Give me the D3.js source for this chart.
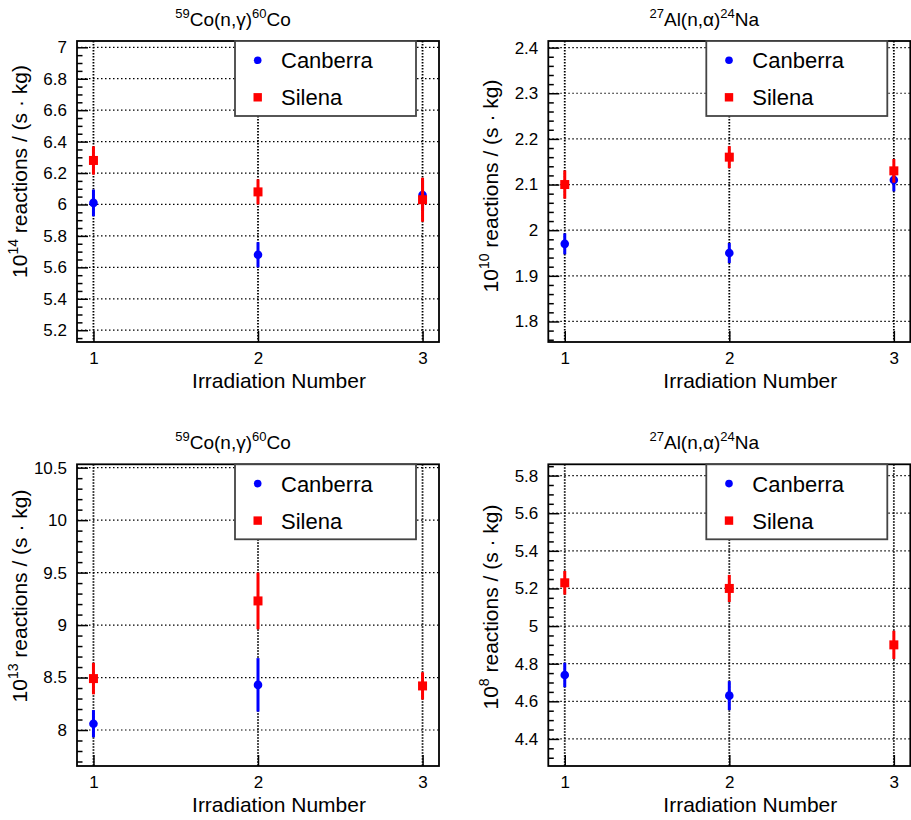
<!DOCTYPE html>
<html>
<head>
<meta charset="utf-8">
<script src="https://cdn.jsdelivr.net/npm/d3@7"></script>
<style>
    body { margin: 0; background: #fff; }
    svg { display: block; font-family: "Liberation Sans", Arial, Helvetica, sans-serif; }
</style>
</head>
<body>
<svg id="chart" width="911" height="820"></svg>
<script>
// irradiation runs (x axis)
var runs = [1, 2, 3];
var seriesNames = ["Canberra", "Silena"];

// 59Co(n,g)60Co, 10^14 reactions / (s kg)
var co14Canberra = [6.01, 5.68, 6.06];
var co14CanberraErr = [0.085, 0.08, 0.10];
var co14Silena = [6.28, 6.08, 6.03];
var co14SilenaErr = [0.09, 0.08, 0.14];

// 27Al(n,a)24Na, 10^10 reactions / (s kg)
var na10Canberra = [1.97, 1.95, 2.11];
var na10CanberraErr = [0.023, 0.022, 0.025];
var na10Silena = [2.10, 2.16, 2.13];
var na10SilenaErr = [0.031, 0.024, 0.026];

// 59Co(n,g)60Co, 10^13 reactions / (s kg)  (no Canberra value for run 3)
var co13Canberra = [8.06, 8.43, null];
var co13CanberraErr = [0.13, 0.255, null];
var co13Silena = [8.49, 9.23, 8.42];
var co13SilenaErr = [0.15, 0.27, 0.13];

// 27Al(n,a)24Na, 10^8 reactions / (s kg)  (no Canberra value for run 3)
var na8Canberra = [4.74, 4.63, null];
var na8CanberraErr = [0.065, 0.077, null];
var na8Silena = [5.23, 5.20, 4.90];
var na8SilenaErr = [0.063, 0.072, 0.075];

var colors = { Canberra: "#0000ff", Silena: "#ff0000" };

/*=====================================================================================================
                                         Panel setup
======================================================================================================*/
var panels = [
    { frame: [77, 439, 41, 342], yDomain: [5.125, 7.04], major: 0.2, minor: 0.05,
      iso: ["59", "Co(n,\u03b3)", "60", "Co"], exp: "14", yTitleY: 171.5,
      can: co14Canberra, canErr: co14CanberraErr, sil: co14Silena, silErr: co14SilenaErr },
    { frame: [548.3, 910.3, 41, 342], yDomain: [1.755, 2.4145], major: 0.1, minor: 0.02,
      iso: ["27", "Al(n,\u03b1)", "24", "Na"], exp: "10", yTitleY: 186,
      can: na10Canberra, canErr: na10CanberraErr, sil: na10Silena, silErr: na10SilenaErr },
    { frame: [77, 439, 464.3, 766], yDomain: [7.657, 10.532], major: 0.5, minor: 0.1,
      iso: ["59", "Co(n,\u03b3)", "60", "Co"], exp: "13", yTitleY: 596,
      can: co13Canberra, canErr: co13CanberraErr, sil: co13Silena, silErr: co13SilenaErr },
    { frame: [548.3, 910.3, 464.3, 766], yDomain: [4.256, 5.86], major: 0.2, minor: 0.05,
      iso: ["27", "Al(n,\u03b1)", "24", "Na"], exp: "8", yTitleY: 607,
      can: na8Canberra, canErr: na8CanberraErr, sil: na8Silena, silErr: na8SilenaErr }
];

var svg = d3.select("#chart");

panels.forEach(drawPanel);

//helpers
function stepTicks(domain, step) {
    var lo = Math.ceil(domain[0] / step - 1e-9),
        hi = Math.floor(domain[1] / step + 1e-9);
    return d3.range(lo, hi + 1).map(function (i) { return +(i * step).toFixed(4); });
}

function fmt(d) { return String(+d.toFixed(3)); }

function drawPanel(p) {
    var x0 = p.frame[0], x1 = p.frame[1], y0 = p.frame[2], y1 = p.frame[3];
    var g = svg.append("g");
    var x = d3.scaleLinear().domain([0.9, 3.1]).range([x0, x1]);
    var y = d3.scaleLinear().domain(p.yDomain).range([y1, y0]);

    var majors = stepTicks(p.yDomain, p.major);
    var minors = stepTicks(p.yDomain, p.minor).filter(function (v) {
        return Math.abs(v / p.major - Math.round(v / p.major)) > 1e-6;
    });

    //grid
    g.selectAll(".hgrid").data(majors).join("line")
        .attr("x1", x0).attr("x2", x1)
        .attr("y1", function (d) { return y(d); }).attr("y2", function (d) { return y(d); })
        .attr("stroke", "#000").attr("stroke-width", 1.2)
        .attr("stroke-dasharray", "1.5,2.5");
    g.selectAll(".vgrid").data(runs).join("line")
        .attr("x1", function (d) { return x(d); }).attr("x2", function (d) { return x(d); })
        .attr("y1", y0).attr("y2", y1)
        .attr("stroke", "#000").attr("stroke-width", 1.8)
        .attr("stroke-dasharray", "1.5,1.5");

    //axes
    var ya = g.append("g").attr("transform", "translate(" + x0 + ",0)")
        .call(d3.axisLeft(y).tickValues(majors).tickSize(-11).tickPadding(10).tickFormat(fmt));
    var ym = g.append("g").attr("transform", "translate(" + x0 + ",0)")
        .call(d3.axisLeft(y).tickValues(minors).tickSize(-5.5).tickFormat(""));
    var xa = g.append("g").attr("transform", "translate(0," + y1 + ")")
        .call(d3.axisBottom(x).tickValues(runs).tickSize(-11).tickPadding(10).tickFormat(d3.format("d")));
    [ya, ym, xa].forEach(function (a) {
        a.select(".domain").remove();
        a.attr("font-family", null).attr("font-size", 17);
        a.selectAll("line").attr("stroke", "#000").attr("stroke-width", 1.5);
        a.selectAll("text").attr("fill", "#000");
    });

    //points
    var series = [
        { name: "Canberra", vals: p.can, errs: p.canErr },
        { name: "Silena", vals: p.sil, errs: p.silErr }
    ];
    series.forEach(function (s) {
        var pts = runs.map(function (r, i) { return { run: r, v: s.vals[i], e: s.errs[i] }; })
            .filter(function (d) { return d.v != null; });
        var c = colors[s.name];
        g.selectAll(null).data(pts).join("line")
            .attr("x1", function (d) { return x(d.run); }).attr("x2", function (d) { return x(d.run); })
            .attr("y1", function (d) { return y(d.v - d.e); }).attr("y2", function (d) { return y(d.v + d.e); })
            .attr("stroke", c).attr("stroke-width", 3);
        if (s.name === "Canberra") {
            g.selectAll(null).data(pts).join("circle")
                .attr("cx", function (d) { return x(d.run); }).attr("cy", function (d) { return y(d.v); })
                .attr("r", 4.3).attr("fill", c);
        } else {
            g.selectAll(null).data(pts).join("rect")
                .attr("x", function (d) { return x(d.run) - 4.5; }).attr("y", function (d) { return y(d.v) - 4.5; })
                .attr("width", 9).attr("height", 9).attr("fill", c);
        }
    });

    //frame
    g.append("rect")
        .attr("x", x0).attr("y", y0).attr("width", x1 - x0).attr("height", y1 - y0)
        .attr("fill", "none").attr("stroke", "#000").attr("stroke-width", 1.8);

    //title
    var t = g.append("text").attr("x", x0 + 156).attr("y", y0 - 15)
        .attr("text-anchor", "middle").attr("fill", "#000");
    t.append("tspan").attr("font-size", 13).attr("dy", -8).text(p.iso[0]);
    t.append("tspan").attr("font-size", 19).attr("dy", 8).text(p.iso[1]);
    t.append("tspan").attr("font-size", 13).attr("dy", -8).text(p.iso[2]);
    t.append("tspan").attr("font-size", 19).attr("dy", 8).text(p.iso[3]);

    //axis titles
    g.append("text").attr("x", (x0 + x1) / 2 + 21).attr("y", y1 + 46)
        .attr("text-anchor", "middle").attr("font-size", 21).attr("fill", "#000")
        .text("Irradiation Number");
    var yt = g.append("text")
        .attr("transform", "translate(" + (x0 - 50) + "," + p.yTitleY + ") rotate(-90)")
        .attr("text-anchor", "middle").attr("font-size", 21).attr("fill", "#000");
    yt.append("tspan").text("10");
    yt.append("tspan").attr("font-size", 14).attr("dy", -9).text(p.exp);
    yt.append("tspan").attr("dy", 9).text(" reactions / (s \u00b7 kg)");

    //legend
    var lx = x0 + 158, ly = y0;
    var lg = g.append("g").attr("transform", "translate(" + lx + "," + ly + ")");
    lg.append("rect").attr("width", 181).attr("height", 75)
        .attr("fill", "#fff").attr("stroke", "#444").attr("stroke-width", 1.8);
    seriesNames.forEach(function (name, i) {
        var cy = 19.3 + i * 37;
        if (name === "Canberra") {
            lg.append("circle").attr("cx", 22.7).attr("cy", cy).attr("r", 3.8).attr("fill", colors[name]);
        } else {
            lg.append("rect").attr("x", 22.7 - 4.2).attr("y", cy - 4.2)
                .attr("width", 8.4).attr("height", 8.4).attr("fill", colors[name]);
        }
        lg.append("text").attr("x", 46).attr("y", cy).attr("dy", "0.36em")
            .attr("font-size", 22).attr("fill", "#000").text(name);
    });
}
</script>
</body>
</html>
